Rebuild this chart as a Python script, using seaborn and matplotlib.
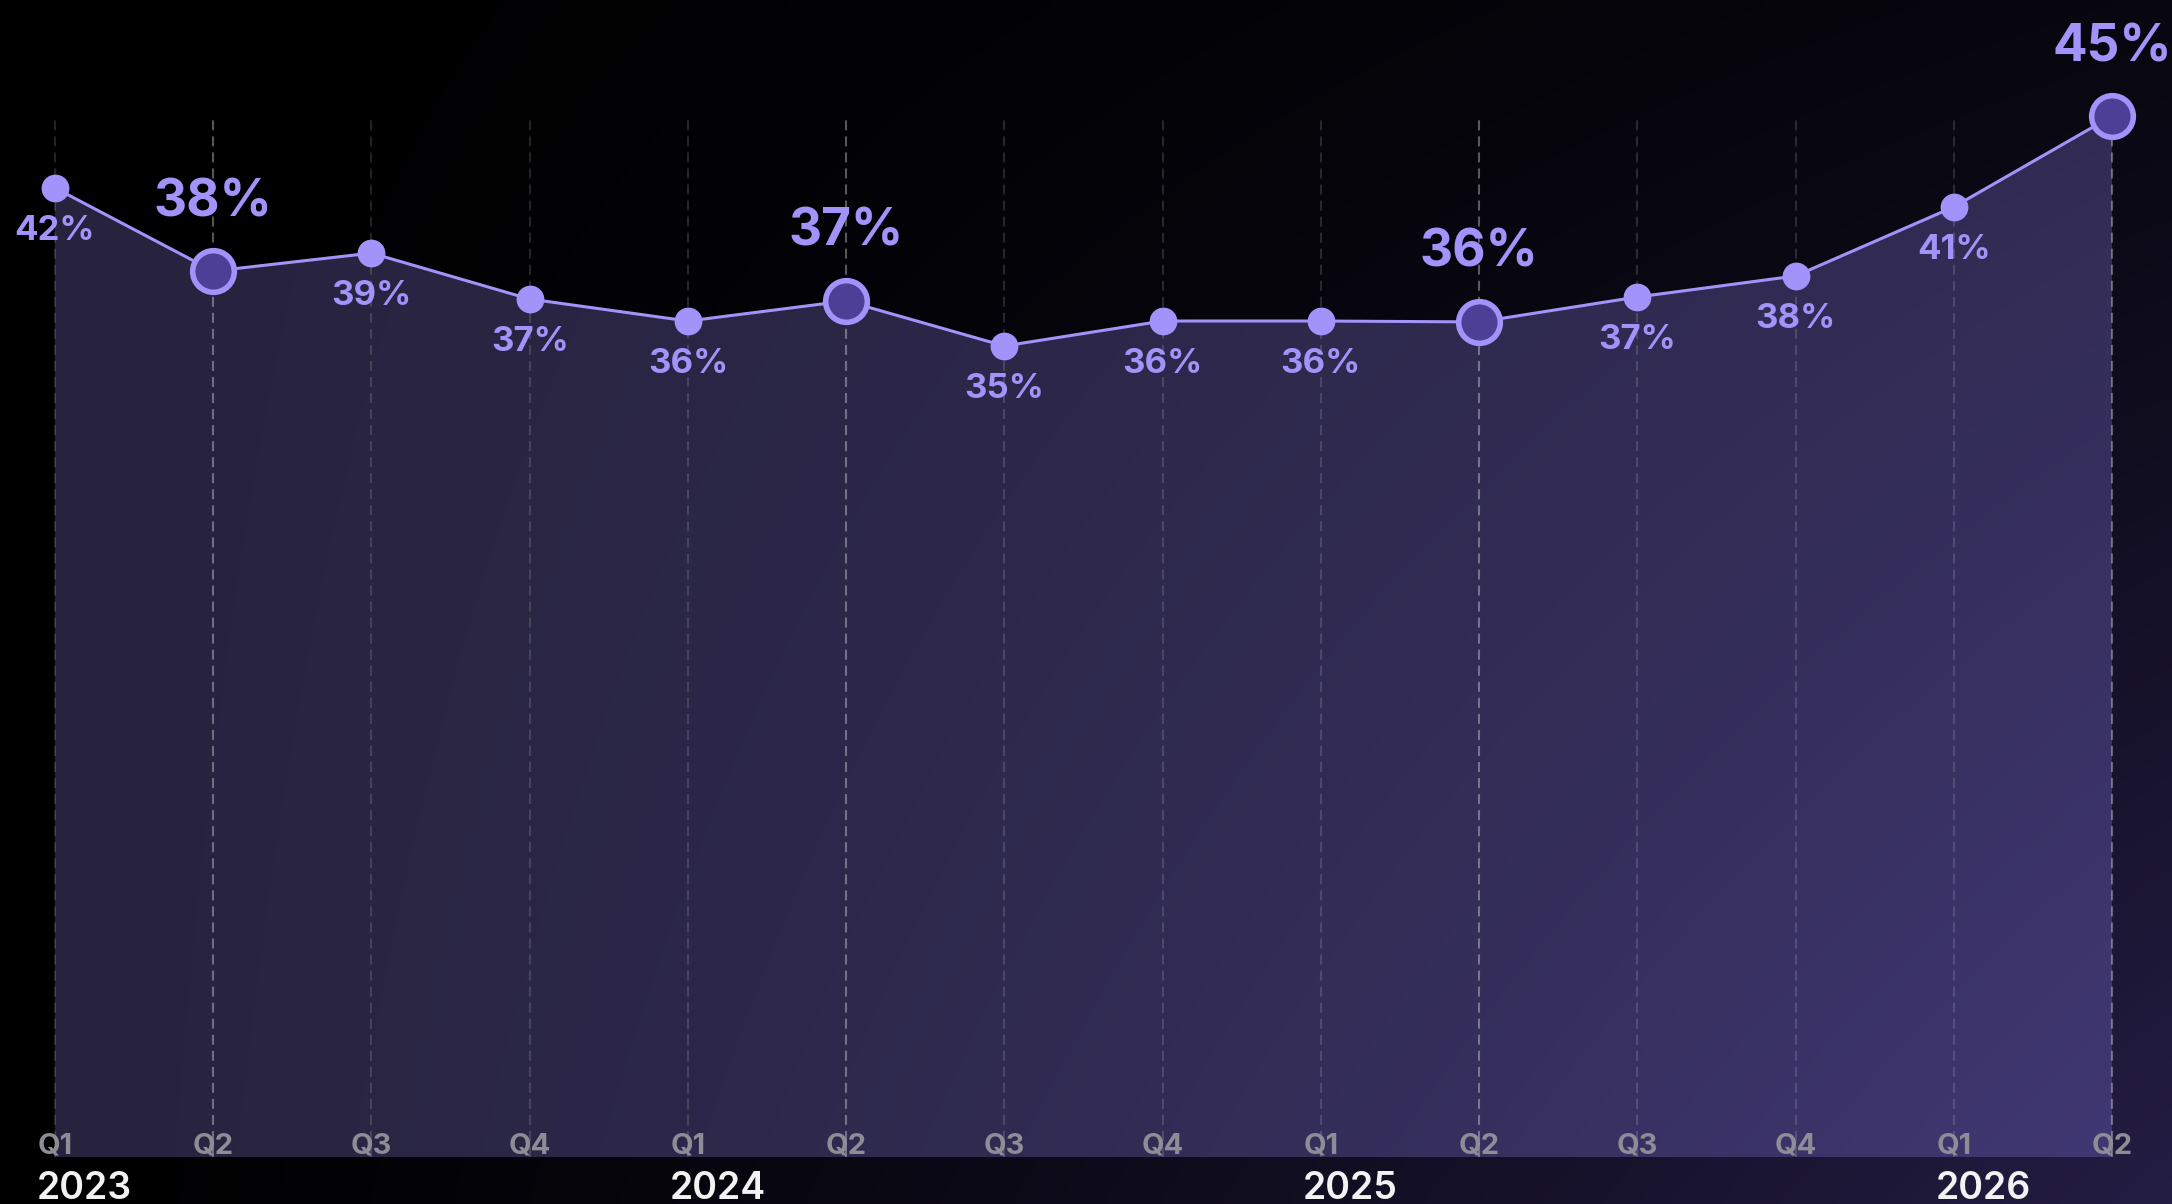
import numpy as np
import pandas as pd
import matplotlib
matplotlib.use("Agg")
import matplotlib.pyplot as plt
import seaborn as sns
from matplotlib.patches import PathPatch

# ---------------- data ----------------
quarters = ["Q1", "Q2", "Q3", "Q4", "Q1", "Q2", "Q3", "Q4", "Q1", "Q2", "Q3", "Q4", "Q1", "Q2"]
years = ["2023", "2023", "2023", "2023", "2024", "2024", "2024", "2024",
         "2025", "2025", "2025", "2025", "2026", "2026"]
values = [41.95, 38.35, 39.13, 37.14, 36.19, 37.06, 35.11, 36.19, 36.19, 36.15, 37.23, 38.14, 41.13, 45.06]
highlight = [False, True, False, False, False, True, False, False, False, True, False, False, False, True]
year_labels = ["2023", "2024", "2025", "2026"]

# ---------------- style ----------------
sns.set_theme(style="white")
plt.rcParams["font.family"] = ["Inter", "DejaVu Sans"]

W, H = 2172, 1204
LINE_C = "#a193fa"
FACE_C = "#4e3f96"
TEXT_C = "#a193fa"
QLAB_C = "#8e8d96"
YEAR_C = "#f2f2f2"

fig = plt.figure(figsize=(W / 100, H / 100), dpi=100)
ax = fig.add_axes([0, 0, 1, 1])

x0_px, step_px = 55.0, 158.23
base_px, scale_px = 1157.0, 23.1
xlim = (-x0_px / step_px, (W - x0_px) / step_px)
ylim = ((base_px - H) / scale_px, base_px / scale_px)
ax.set_xlim(*xlim)
ax.set_ylim(*ylim)
ax.axis("off")

df = pd.DataFrame({"idx": np.arange(len(values)), "value": values,
                   "quarter": quarters, "year": years, "hl": highlight})

# background gradient
gy, gx = np.mgrid[0:1:121j, 0:1:218j]
t = np.clip(gx * (0.35 + 0.65 * gy), 0, 1) ** 1.4
c0 = np.array([0, 0, 0]) / 255
c1 = np.array([0x24, 0x1d, 0x44]) / 255
bg = c0[None, None, :] * (1 - t[..., None]) + c1[None, None, :] * t[..., None]
ax.imshow(bg, extent=(xlim[0], xlim[1], ylim[0], ylim[1]), origin="upper",
          aspect="auto", zorder=0, interpolation="bilinear")

# area fill with gradient
poly = ax.fill_between(df["idx"], df["value"], 0, color="none", lw=0, zorder=1)
path = poly.get_paths()[0]
patch = PathPatch(path, transform=ax.transData, facecolor="none", edgecolor="none")
ax.add_patch(patch)
t2 = np.clip(gx * (0.45 + 0.55 * gy), 0, 1) ** 1.3
f0 = np.array([0x27, 0x23, 0x3e]) / 255
f1 = np.array([0x42, 0x39, 0x76]) / 255
fg = f0[None, None, :] * (1 - t2[..., None]) + f1[None, None, :] * t2[..., None]
im = ax.imshow(fg, extent=(xlim[0], xlim[1], ylim[0], ylim[1]), origin="upper",
               aspect="auto", zorder=1, interpolation="bilinear")
im.set_clip_path(patch)

# dashed vertical guides
top_val = (base_px - 118) / scale_px
for i, hl in enumerate(highlight):
    ax.vlines(i, 0, top_val, colors="white", alpha=0.34 if hl else 0.14,
              linewidth=1.5, linestyles=(0, (4.8, 2.9)), zorder=2)

# line
sns.lineplot(data=df, x="idx", y="value", ax=ax, color=LINE_C, linewidth=2.2,
             zorder=3, legend=False)
# markers
sns.scatterplot(data=df[~df["hl"]], x="idx", y="value", ax=ax, color=LINE_C,
                s=20 ** 2, linewidth=0, zorder=4, legend=False)
sns.scatterplot(data=df[df["hl"]], x="idx", y="value", ax=ax, color=FACE_C,
                edgecolor=LINE_C, s=30 ** 2, linewidth=4, zorder=5, legend=False)
ax.set_xlim(*xlim)
ax.set_ylim(*ylim)
ax.axis("off")

# value labels
for i, (v, hl) in enumerate(zip(values, highlight)):
    lab = f"{round(v)}%"
    if hl:
        ax.annotate(lab, (i, v), xytext=(0, 39.6), textcoords="offset points",
                    ha="center", va="baseline", fontsize=37, fontweight="bold",
                    color=TEXT_C, zorder=6)
    else:
        ax.annotate(lab, (i, v), xytext=(0, -37.4), textcoords="offset points",
                    ha="center", va="baseline", fontsize=25, fontweight="bold",
                    color=TEXT_C, zorder=6)

# quarter labels
for i, q in enumerate(quarters):
    ax.annotate(q, (i, 0), xytext=(0, 2.5), textcoords="offset points",
                ha="center", va="baseline", fontsize=21, fontweight="bold",
                color=QLAB_C, zorder=6)

# year labels
for yl in year_labels:
    i = years.index(yl)
    ax.annotate(yl, (i, 0), xytext=(-13, -30), textcoords="offset points",
                ha="left", va="baseline", fontsize=27, fontweight="semibold",
                color=YEAR_C, zorder=6)

fig.savefig("out.png", dpi=100, facecolor="black")
